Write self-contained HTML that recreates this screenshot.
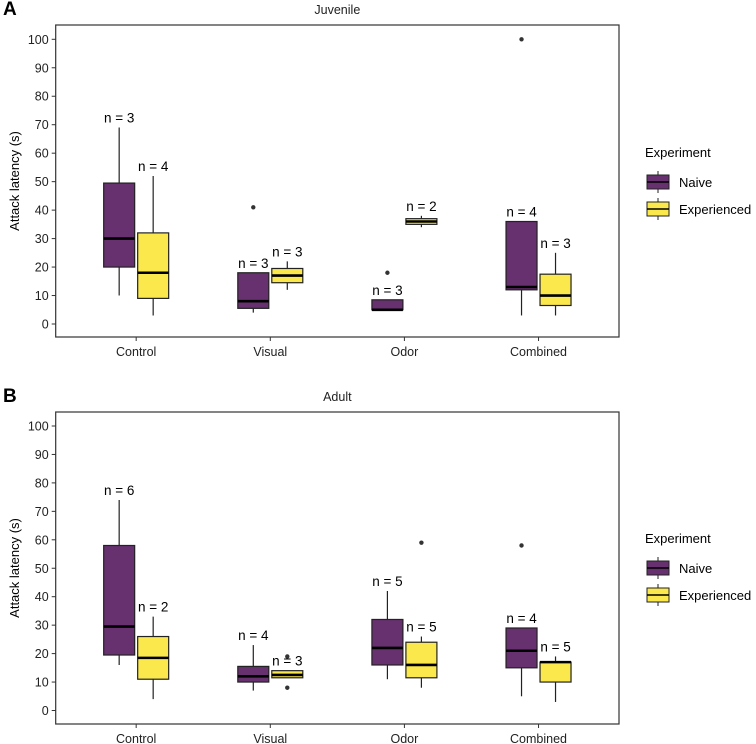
<!DOCTYPE html>
<html><head><meta charset="utf-8">
<style>
body{margin:0;background:#fff;}
svg{display:block;font-family:"Liberation Sans",Arial,sans-serif;}
</style></head>
<body>
<svg id="chart" width="756" height="744" viewBox="0 0 756 744" xmlns="http://www.w3.org/2000/svg"></svg>
<script>
const categories = ["Control","Visual","Odor","Combined"];
const groups = ["Naive","Experienced"];
// [lowWhisker, q1, median, q3, highWhisker]
const juvNaive = [[10,20,30,49.5,69],[4,5.5,8,18,18],[5,5,5,8.5,8.5],[3,12,13,36,36]];
const juvExp = [[3,9,18,32,52],[12,14.5,17,19.5,22],[34,35,36,37,38],[3,6.5,10,17.5,25]];
const juvNaiveOut = [[],[41],[18],[100]];
const juvExpOut = [[],[],[],[]];
const juvNaiveN = [3,3,3,4];
const juvExpN = [4,3,2,3];
const adNaive = [[16,19.5,29.5,58,74],[7,10,12,15.5,23],[11,16,22,32,42],[5,15,21,29,29]];
const adExp = [[4,11,18.5,26,33],[11.5,11.5,12.5,14,14],[8,11.5,16,24,26],[3,10,17,17,19]];
const adNaiveOut = [[],[],[],[58]];
const adExpOut = [[],[19,8],[59],[]];
const adNaiveN = [6,4,5,4];
const adExpN = [2,3,5,5];
const yTicks = [0,10,20,30,40,50,60,70,80,90,100];

const NS="http://www.w3.org/2000/svg";
const svg=document.getElementById('chart');
const COL=["#67306f","#fbe84d"];
function mk(tag,attrs,parent,text){const e=document.createElementNS(NS,tag);for(const k in attrs)e.setAttribute(k,attrs[k]);if(text!==undefined)e.textContent=text;(parent||svg).appendChild(e);return e;}

function panel(opt){
  const g=mk('g',{});
  
  
  const L=55.7,R=619,T=opt.top,B=opt.bottom;
  const y=v=>opt.y0+(opt.y100-opt.y0)*v/100;
  const step=(R-L)/4.2;
  const x=i=>L+step*(0.6+i);
  const lab=mk('text',{x:3,y:opt.top-10,'font-size':19,'font-weight':'bold',fill:'#000'},g,opt.letter);
  
  const tt=mk('text',{x:(L+R)/2,y:opt.top-11,'font-size':12.5,'text-anchor':'middle',fill:'#222'},g,opt.title);
  
  const fr=mk('rect',{x:L,y:T,width:R-L,height:B-T,fill:'none',stroke:'#333','stroke-width':1.2},g);
  
  yTicks.forEach(v=>{
    mk('line',{x1:L-4,x2:L,y1:y(v),y2:y(v),stroke:'#333','stroke-width':1},g);
    const t=mk('text',{x:L-7,y:y(v)+4.5,'font-size':12.5,'text-anchor':'end',fill:'#222'},g,String(v));
    
  });
  const yt=mk('text',{x:0,y:0,'font-size':13,'text-anchor':'middle',fill:'#000',transform:`translate(19,${(T+B)/2}) rotate(-90)`},g,'Attack latency (s)');
  
  categories.forEach((c,i)=>{
    mk('line',{x1:x(i),x2:x(i),y1:B,y2:B+4,stroke:'#333','stroke-width':1},g);
    const t=mk('text',{x:x(i),y:B+19,'font-size':12.5,'text-anchor':'middle',fill:'#222'},g,c);
    
  });
  const bw=31, dodge=17;
  [opt.naive,opt.exp].forEach((ser,si)=>{
    const outs=si?opt.expOut:opt.naiveOut, ns=si?opt.expN:opt.naiveN;
    ser.forEach((s,i)=>{
      const cx=x(i)+(si?dodge:-dodge);
      const bg=mk('g',{},g);
      
      
      mk('line',{x1:cx,x2:cx,y1:y(s[0]),y2:y(s[4]),stroke:'#222','stroke-width':1.2},bg);
      mk('rect',{x:cx-bw/2,y:y(s[3]),width:bw,height:Math.max(y(s[1])-y(s[3]),0.5),fill:COL[si],stroke:'#222','stroke-width':1.2},bg);
      mk('line',{x1:cx-bw/2,x2:cx+bw/2,y1:y(s[2]),y2:y(s[2]),stroke:'#000','stroke-width':2.6},bg);
      outs[i].forEach(o=>{
        const c=mk('circle',{cx:cx,cy:y(o),r:2.2,fill:'#333'},g);
        
      });
      const nt=mk('text',{x:cx,y:y(s[4])-5,'font-size':13.5,'text-anchor':'middle',fill:'#000'},g,'n = '+ns[i]);
      
    });
  });
  // legend
  const lg=mk('g',{},g);
  
  mk('text',{x:645,y:opt.legY,'font-size':13,fill:'#000'},lg,'Experiment');
  groups.forEach((n,k)=>{
    const cy=opt.legY+25+k*27;
    const e=mk('g',{},lg);
    
    
    mk('line',{x1:658,x2:658,y1:cy-11,y2:cy+11,stroke:'#222','stroke-width':1},e);
    mk('rect',{x:647,y:cy-7,width:22,height:14,fill:COL[k],stroke:'#222','stroke-width':1},e);
    mk('line',{x1:647,x2:669,y1:cy,y2:cy,stroke:'#000','stroke-width':1.5},e);
    mk('text',{x:679,y:cy+5,'font-size':13,fill:'#000'},e,n);
  });
}
panel({name:'juvenile-panel',letter:'A',title:'Juvenile',top:25,bottom:337,y0:324,y100:39.3,
  naive:juvNaive,exp:juvExp,naiveOut:juvNaiveOut,expOut:juvExpOut,naiveN:juvNaiveN,expN:juvExpN,legY:157});
panel({name:'adult-panel',letter:'B',title:'Adult',top:412,bottom:724,y0:710.5,y100:426,
  naive:adNaive,exp:adExp,naiveOut:adNaiveOut,expOut:adExpOut,naiveN:adNaiveN,expN:adExpN,legY:543});
</script>
</body></html>
